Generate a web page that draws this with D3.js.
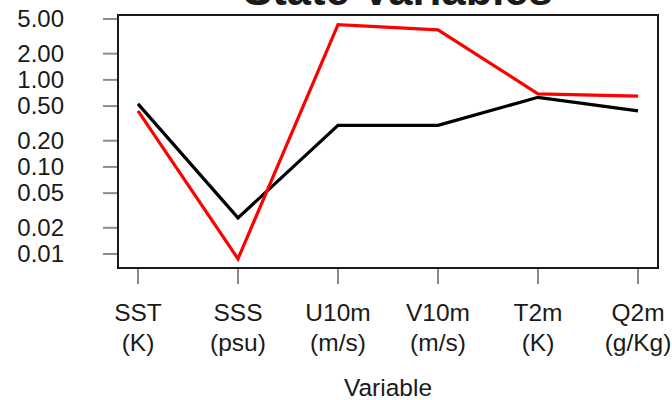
<!DOCTYPE html>
<html>
<head>
<meta charset="utf-8">
<script src="https://cdnjs.cloudflare.com/ajax/libs/d3/7.8.5/d3.min.js"></script>
<style>
  body { margin: 0; background: #fff; }
  svg { display: block; }
  text { font-family: "Liberation Sans", Arial, Helvetica, sans-serif; fill: #1a1a1a; }
</style>
</head>
<body>
<svg id="chart" width="672" height="400"></svg>
<script>
// categories, units and values
var variables = ["SST", "SSS", "U10m", "V10m", "T2m", "Q2m"];
var units = ["(K)", "(psu)", "(m/s)", "(m/s)", "(K)", "(g/Kg)"];
var blackSeries = [0.53, 0.026, 0.30, 0.30, 0.63, 0.44];
var redSeries = [0.44, 0.0088, 4.3, 3.75, 0.69, 0.65];
var yTicks = [0.01, 0.02, 0.05, 0.10, 0.20, 0.50, 1.00, 2.00, 5.00];

var svg = d3.select("#chart");

// plot box
var box = { left: 118, right: 658, top: 15, bottom: 268 };

// R style: 4% padding on x around 1..6
var x = d3.scaleLinear()
	.domain([1 - 0.2, 6 + 0.2])
	.range([box.left, box.right]);

var y = d3.scaleLog()
	.domain([0.01, 5])
	.range([254, 19]);

// title (cut off at the top, as in the original)
svg.append("text")
	.attr("x", 398)
	.attr("y", 5)
	.attr("text-anchor", "middle")
	.style("font-size", "43.5px")
	.style("font-weight", "bold")
	.text("State Variables");

// y axis: ticks + labels
var yAxis = svg.append("g");
yAxis.selectAll("line")
	.data(yTicks)
	.enter().append("line")
	.attr("x1", 103)
	.attr("x2", box.left)
	.attr("y1", function(d) { return y(d); })
	.attr("y2", function(d) { return y(d); })
	.style("stroke", "#8c8c8c")
	.style("stroke-width", 2);

yAxis.selectAll("text")
	.data(yTicks)
	.enter().append("text")
	.attr("x", 64)
	.attr("y", function(d) { return y(d) + 8; })
	.attr("text-anchor", "end")
	.style("font-size", "24px")
	.text(function(d) { return d.toFixed(2); });

// x axis: ticks + two-line labels
var xAxis = svg.append("g");
xAxis.selectAll("line")
	.data(variables)
	.enter().append("line")
	.attr("x1", function(d, i) { return x(i + 1); })
	.attr("x2", function(d, i) { return x(i + 1); })
	.attr("y1", box.bottom)
	.attr("y2", 284)
	.style("stroke", "#8c8c8c")
	.style("stroke-width", 2);

xAxis.selectAll("text.var")
	.data(variables)
	.enter().append("text")
	.attr("class", "var")
	.attr("x", function(d, i) { return x(i + 1); })
	.attr("y", 321)
	.attr("text-anchor", "middle")
	.style("font-size", "24.5px")
	.text(function(d) { return d; });

xAxis.selectAll("text.unit")
	.data(units)
	.enter().append("text")
	.attr("class", "unit")
	.attr("x", function(d, i) { return x(i + 1); })
	.attr("y", 351)
	.attr("text-anchor", "middle")
	.style("font-size", "24.5px")
	.text(function(d) { return d; });

svg.append("text")
	.attr("x", (box.left + box.right) / 2)
	.attr("y", 396)
	.attr("text-anchor", "middle")
	.style("font-size", "24.5px")
	.text("Variable");

// series lines
var line = d3.line()
	.x(function(d, i) { return x(i + 1); })
	.y(function(d) { return y(d); });

svg.append("path")
	.datum(blackSeries)
	.attr("d", line)
	.style("fill", "none")
	.style("stroke", "#000")
	.style("stroke-width", 3.2)
	.style("stroke-linejoin", "miter");

svg.append("path")
	.datum(redSeries)
	.attr("d", line)
	.style("fill", "none")
	.style("stroke", "#ff0000")
	.style("stroke-width", 3.2)
	.style("stroke-linejoin", "miter");

// frame
svg.append("rect")
	.attr("x", box.left)
	.attr("y", box.top)
	.attr("width", box.right - box.left)
	.attr("height", box.bottom - box.top)
	.style("fill", "none")
	.style("stroke", "#1a1a1a")
	.style("stroke-width", 2);
</script>
</body>
</html>
